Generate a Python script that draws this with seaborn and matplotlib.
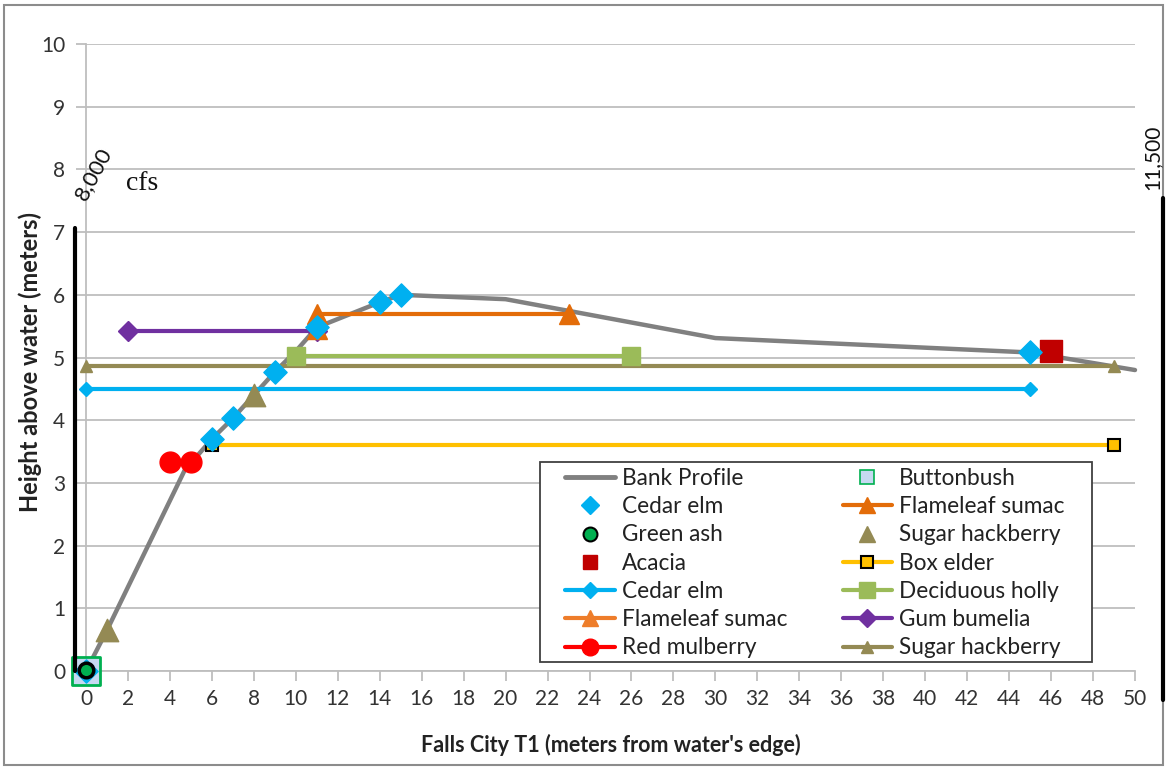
import matplotlib
matplotlib.use("Agg")
import matplotlib.pyplot as plt
import seaborn as sns
import pandas as pd
from matplotlib.lines import Line2D
from matplotlib.patches import Rectangle

# ---------------- data ----------------
profile_x = [0, 1, 4.7, 6, 7, 8, 9, 10, 11, 14, 15, 20, 30, 45, 50]
profile_y = [0, 0.65, 3.2, 3.7, 4.03, 4.4, 4.77, 5.1, 5.48, 5.88, 6.0, 5.93, 5.31, 5.08, 4.8]

cedar_pts_x = [0, 6, 7, 9, 11, 14, 15, 45]
cedar_pts_y = [0, 3.7, 4.03, 4.77, 5.48, 5.88, 6.0, 5.08]
green_ash_x = [0]
green_ash_y = [0.02]
buttonbush_x = [0]
buttonbush_y = [0]
hackberry_pts_x = [1, 8]
hackberry_pts_y = [0.65, 4.4]
acacia_x = [46]
acacia_y = [5.1]

flame_a_x = [11, 23]
flame_a_y = [5.7, 5.7]
flame_b_x = [11]
flame_b_y = [5.45]
box_elder_x = [6, 49]
box_elder_y = [3.6, 3.6]
cedar_line_x = [0, 45]
cedar_line_y = [4.5, 4.5]
holly_x = [10, 26]
holly_y = [5.02, 5.02]
gum_x = [2, 11]
gum_y = [5.42, 5.42]
mulberry_x = [4, 5]
mulberry_y = [3.33, 3.33]
hackberry_line_x = [0, 49]
hackberry_line_y = [4.87, 4.87]

x_ticks = list(range(0, 51, 2))
y_ticks = list(range(0, 11))

legend_labels = ["Bank Profile", "Cedar elm", "Green ash", "Acacia", "Cedar elm",
                 "Flameleaf sumac", "Red mulberry", "Buttonbush", "Flameleaf sumac",
                 "Sugar hackberry", "Box elder", "Deciduous holly", "Gum bumelia",
                 "Sugar hackberry"]

# colours
C_PROFILE = "#808080"
C_CEDAR = "#00B0F0"
C_GREEN = "#00B050"
C_BUTTON = "#C6D9F1"
C_ACACIA = "#C00000"
C_FLAME = "#E36C09"
C_FLAME2 = "#EE7D2A"
C_HACK = "#948A54"
C_BOX = "#FFC000"
C_HOLLY = "#9BBB59"
C_GUM = "#7030A0"
C_MULB = "#FF0000"

sns.set_theme(style="white")
plt.rcParams["font.family"] = ["Lato", "DejaVu Sans"]

W, H = 1167, 768
fig = plt.figure(figsize=(W / 100, H / 100), dpi=100)
ax = fig.add_axes([86 / W, 1 - 671 / H, (1135 - 86) / W, (671 - 44) / H])


def line(xs, ys, color, marker, ms, lw=3.0, mec=None, z=3, mew=1.0):
    sns.lineplot(x=xs, y=ys, color=color, marker=marker, markersize=ms,
                 linewidth=lw, markeredgecolor=mec if mec else color,
                 markeredgewidth=mew, sort=False, ax=ax, zorder=z,
                 clip_on=False, legend=False, estimator=None)


def pts(xs, ys, color, marker, s, ec=None, z=6, lw=1.0):
    sns.scatterplot(x=xs, y=ys, color=color, marker=marker, s=s,
                    edgecolor=ec if ec else color, linewidth=lw, ax=ax,
                    zorder=z, clip_on=False, legend=False)


# bank profile
line(profile_x, profile_y, C_PROFILE, None, 0, lw=3.2, z=2.5)

# horizontal series
line(hackberry_line_x, hackberry_line_y, C_HACK, "^", 8, z=3)
line(cedar_line_x, cedar_line_y, C_CEDAR, "D", 7, z=3)
line(box_elder_x, box_elder_y, C_BOX, "s", 8, mec="black", mew=1.5, z=3)
line(holly_x, holly_y, C_HOLLY, "s", 13, z=3.2)
line(gum_x, gum_y, C_GUM, "D", 10, z=3.3)
line(flame_a_x, flame_a_y, C_FLAME, "^", 14, z=3.4)
line(flame_b_x, flame_b_y, C_FLAME, "^", 14, z=3.4)
line(mulberry_x, mulberry_y, C_MULB, "o", 15, z=3.5)

# point series
pts(buttonbush_x, buttonbush_y, C_BUTTON, "s", 420, ec=C_GREEN, z=5, lw=2)
pts(hackberry_pts_x, hackberry_pts_y, C_HACK, "^", 260, z=5.5)
pts(acacia_x, acacia_y, C_ACACIA, "s", 230, z=5.5)
pts(cedar_pts_x, cedar_pts_y, C_CEDAR, "D", 140, z=6)
pts(green_ash_x, green_ash_y, C_GREEN, "o", 110, ec="black", z=7, lw=2.5)

# axes styling
ax.set_xlim(0, 50)
ax.set_ylim(0, 10)
ax.set_xticks(x_ticks)
ax.set_yticks(y_ticks)
ax.grid(axis="y", color="#BEBEBE", linewidth=1.3)
ax.set_axisbelow(True)
for s in ["top", "right"]:
    ax.spines[s].set_visible(False)
for s in ["left", "bottom"]:
    ax.spines[s].set_color("#BEBEBE")
    ax.spines[s].set_linewidth(1.3)
ax.tick_params(axis="x", direction="out", length=7, width=1.3, color="#BEBEBE",
               labelsize=15, labelcolor="#333333", pad=6, bottom=True)
ax.tick_params(axis="y", direction="out", length=7, width=1.3, color="#BEBEBE",
               labelsize=15, labelcolor="#333333", pad=8, left=True)

fig.text(30 / W, 1 - 362 / H, "Height above water (meters)", rotation=90,
         ha="center", va="center", fontsize=17, fontweight="bold", color="#222222")
fig.text(611 / W, 1 - 745 / H, "Falls City T1 (meters from water's edge)",
         ha="center", va="center", fontsize=15.5, fontweight="bold", color="#222222")

# flow annotations
fig.text(93 / W, 1 - 174 / H, "8,000", rotation=62, ha="center", va="center",
         fontsize=16, color="#111111")
fig.text(142 / W, 1 - 184 / H, "cfs", ha="center", va="center", fontsize=20,
         family=["Liberation Serif", "DejaVu Serif"], color="#111111")
fig.text(1152 / W, 1 - 157 / H, "11,500", rotation=90, ha="center", va="center",
         fontsize=15, color="#111111")
fig.add_artist(Line2D([75 / W, 75 / W], [1 - 228 / H, 1 - 671 / H],
                      transform=fig.transFigure, color="black", lw=3))
fig.add_artist(Line2D([1163 / W, 1163 / W], [1 - 198 / H, 1 - 700 / H],
                      transform=fig.transFigure, color="black", lw=3))
fig.add_artist(Rectangle((4 / W, 3 / H), (1163 - 4) / W, (764 - 4) / H,
                         transform=fig.transFigure, fill=False,
                         edgecolor="#8C8C8C", lw=1.5))

# legend
def h_line(color, marker, ms, mec=None, lw=3.0, mew=1.0):
    return Line2D([], [], color=color, marker=marker, markersize=ms, lw=lw,
                  markeredgecolor=mec if mec else color, markeredgewidth=mew)


def h_pt(color, marker, ms, mec=None, mew=1.0):
    return Line2D([], [], color=color, marker=marker, markersize=ms, lw=0,
                  markeredgecolor=mec if mec else color, markeredgewidth=mew)


handles = [
    h_line(C_PROFILE, None, 0, lw=3.5),
    h_pt(C_CEDAR, "D", 9),
    h_pt(C_GREEN, "o", 10, mec="black", mew=1.5),
    h_pt(C_ACACIA, "s", 10),
    h_line(C_CEDAR, "D", 8),
    h_line(C_FLAME2, "^", 12),
    h_line(C_MULB, "o", 12),
    h_pt(C_BUTTON, "s", 10, mec=C_GREEN, mew=1.2),
    h_line(C_FLAME, "^", 12),
    h_pt(C_HACK, "^", 11),
    h_line(C_BOX, "s", 9, mec="black", mew=1.5),
    h_line(C_HOLLY, "s", 12),
    h_line(C_GUM, "D", 9),
    h_line(C_HACK, "^", 9),
]

# legend frame drawn as a box, contents placed inside
ax.add_patch(Rectangle(((540 - 86) / 1049, (671 - 662) / 627),
                       (1092 - 540) / 1049, (662 - 462) / 627,
                       transform=ax.transAxes, facecolor="white",
                       edgecolor="#404040", lw=1.3, zorder=9, clip_on=False))
leg = ax.legend(handles, legend_labels, ncol=2, loc="upper left",
                bbox_to_anchor=((565 - 86) / 1049, (671 - 468) / 627),
                fontsize=16.3, frameon=False, labelspacing=0.32, handlelength=2.2,
                handletextpad=0.3, columnspacing=2.45, borderpad=0,
                borderaxespad=0)
leg.set_zorder(10)
for t in leg.get_texts():
    t.set_color("#222222")

fig.savefig("out.png", dpi=100)
